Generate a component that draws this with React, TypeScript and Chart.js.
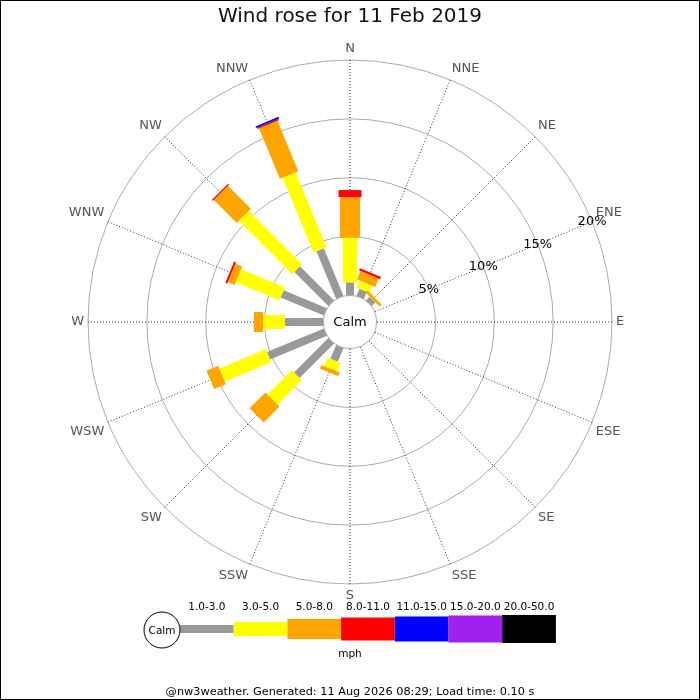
import React, { useEffect, useRef } from 'react';
import { Chart, registerables } from 'chart.js';

Chart.register(...registerables);

const FONT = '"DejaVu Sans", sans-serif';

const title = 'Wind rose for 11 Feb 2019';
const footer = '@nw3weather. Generated: 11 Aug 2026 08:29; Load time: 0.10 s';
const unitLabel = 'mph';
const calmLabel = 'Calm';

const directions = ['N', 'NNE', 'NE', 'ENE', 'E', 'ESE', 'SE', 'SSE', 'S', 'SSW', 'SW', 'WSW', 'W', 'WNW', 'NW', 'NNW'];
const speedBands = ['1.0-3.0', '3.0-5.0', '5.0-8.0', '8.0-11.0', '11.0-15.0', '15.0-20.0', '20.0-50.0'];

// percentage of time per direction (N..NNW), one array per speed band
const band1to3 = [1.1, 0.66, 0.45, 0, 0, 0, 0, 0, 0, 1.27, 4.14, 5.24, 3.28, 3.99, 4.1, 4.38];
const band3to5 = [3.8, 0.66, 0, 0, 0, 0, 0, 0, 0, 0.77, 2.92, 4.27, 1.84, 4.01, 6.4, 6.88];
const band5to8 = [3.45, 0.77, 0.25, 0, 0, 0, 0, 0, 0, 0.34, 1.9, 1.08, 0.79, 0.63, 2.75, 4.64];
const band8to11 = [0.6, 0.2, 0, 0, 0, 0, 0, 0, 0, 0, 0, 0, 0, 0.17, 0.12, 0.12];
const band11to15 = [0, 0, 0, 0, 0, 0, 0, 0, 0, 0, 0, 0, 0, 0, 0, 0.15];
const band15to20 = [0, 0, 0, 0, 0, 0, 0, 0, 0, 0, 0, 0, 0, 0, 0, 0];
const band20to50 = [0, 0, 0, 0, 0, 0, 0, 0, 0, 0, 0, 0, 0, 0, 0, 0];
const bandValues = [band1to3, band3to5, band5to8, band8to11, band11to15, band15to20, band20to50];

const ringTicks = [5, 10, 15, 20];
const ringMin = -2.255;
const ringMax = 20;

// styles
const bandColors = ['#999999', '#ffff00', '#ffa500', '#ff0000', '#0000ff', '#a020f0', '#000000'];
const bandThickness = [8, 14, 20, 23, 25, 27, 28];

const CX = 350;
const CY = 322;
const RADIUS = 262;

const windRosePlugin = {
  id: 'windRose',
  afterDatasetsDraw(chart: any) {
    const scale = chart.scales.r;
    const ctx = chart.ctx;
    const n = chart.data.labels.length;
    ctx.save();
    // stacked bars
    for (let i = 0; i < n; i++) {
      let cum = 0;
      chart.data.datasets.forEach((ds: any) => {
        const v = ds.data[i];
        if (!v) return;
        const r0 = scale.getDistanceFromCenterForValue(cum);
        cum += v;
        const r1 = scale.getDistanceFromCenterForValue(cum);
        const { angle } = scale.getPointPosition(i, r1);
        const w = ds.barThickness;
        ctx.save();
        ctx.translate(scale.xCenter, scale.yCenter);
        ctx.rotate(angle);
        ctx.fillStyle = ds.backgroundColor;
        ctx.fillRect(r0, -w / 2, r1 - r0, w);
        ctx.restore();
      });
    }
    // calm circle
    const rc = scale.getDistanceFromCenterForValue(0);
    ctx.beginPath();
    ctx.arc(scale.xCenter, scale.yCenter, rc, 0, Math.PI * 2);
    ctx.fillStyle = '#ffffff';
    ctx.fill();
    ctx.lineWidth = 1;
    ctx.strokeStyle = '#aaaaaa';
    ctx.stroke();
    ctx.fillStyle = '#000000';
    ctx.font = `13px ${FONT}`;
    ctx.textAlign = 'center';
    ctx.textBaseline = 'middle';
    ctx.fillText(calmLabel, scale.xCenter, scale.yCenter + 1);

    // ring labels along ENE spoke
    const eneIndex = directions.indexOf('ENE');
    ringTicks.forEach((t) => {
      const p = scale.getPointPositionForValue(eneIndex, t);
      ctx.fillText(`${t}%`, p.x, p.y);
    });

    // legend
    const legX = 180;
    const legStep = 53.7;
    const legY = 629;
    chart.data.datasets.forEach((ds: any, b: number) => {
      const x = legX + b * legStep;
      const w = ds.barThickness;
      ctx.fillStyle = ds.backgroundColor;
      ctx.fillRect(x, legY - w / 2, legStep, w);
      ctx.fillStyle = '#000000';
      ctx.font = `10.5px ${FONT}`;
      ctx.fillText(ds.label, x + legStep / 2, 607);
    });
    ctx.beginPath();
    ctx.arc(162, 630, 18, 0, Math.PI * 2);
    ctx.fillStyle = '#ffffff';
    ctx.fill();
    ctx.strokeStyle = '#000000';
    ctx.stroke();
    ctx.fillStyle = '#000000';
    ctx.font = `10.5px ${FONT}`;
    ctx.fillText(calmLabel, 162, 631);
    ctx.fillText(unitLabel, 350, 654);
    ctx.restore();
  },
  afterDraw(chart: any) {
    const ctx = chart.ctx;
    ctx.save();
    ctx.strokeStyle = '#000000';
    ctx.lineWidth = 1;
    ctx.strokeRect(0.5, 0.5, chart.width - 1, chart.height - 1);
    ctx.restore();
  },
};

export default function App() {
  const ref = useRef<HTMLCanvasElement | null>(null);
  useEffect(() => {
    const canvas = ref.current;
    if (!canvas) return;
    const chart = new Chart(canvas, {
      type: 'radar',
      data: {
        labels: directions,
        datasets: speedBands.map((label, b) => ({
          label,
          data: bandValues[b],
          backgroundColor: bandColors[b],
          borderColor: bandColors[b],
          barThickness: bandThickness[b],
          fill: false,
          showLine: false,
          pointRadius: 0,
          pointHoverRadius: 0,
          pointHitRadius: 0,
          borderWidth: 0,
        })) as any,
      },
      options: {
        responsive: false,
        animation: false,
        devicePixelRatio: 1,
        events: [],
        layout: { padding: 0 },
        plugins: {
          legend: { display: false },
          tooltip: { enabled: false },
          filler: { propagate: false },
          title: {
            display: true,
            text: title,
            color: '#111111',
            font: { family: FONT, size: 20, weight: 'normal' },
            padding: { top: 5, bottom: 6 },
          },
          subtitle: {
            display: true,
            position: 'bottom',
            text: footer,
            color: '#000000',
            font: { family: FONT, size: 11.3, weight: 'normal' },
            padding: { top: 0, bottom: 1 },
          },
        },
        scales: {
          r: {
            min: ringMin,
            max: ringMax,
            startAngle: 0,
            beforeFit: (scale: any) => {
              scale.setCenterPoint = function () {
                this.xCenter = CX;
                this.yCenter = CY;
                this.drawingArea = RADIUS;
              };
            },
            afterBuildTicks: (scale: any) => {
              scale.ticks = ringTicks.map((v) => ({ value: v }));
            },
            ticks: { display: false },
            grid: { circular: true, color: '#aaaaaa', lineWidth: 1 },
            angleLines: { display: true, color: '#333333', lineWidth: 1, borderDash: [1, 2] },
            pointLabels: {
              display: true,
              color: '#555555',
              padding: 4,
              font: { family: FONT, size: 13 },
            },
          },
        },
      } as any,
      plugins: [windRosePlugin],
    });
    return () => chart.destroy();
  }, []);

  return (
    <div style={{ position: 'absolute', left: 0, top: 0, width: 700, height: 700, background: '#ffffff' }}>
      <canvas ref={ref} width={700} height={700} style={{ display: 'block' }} />
    </div>
  );
}
